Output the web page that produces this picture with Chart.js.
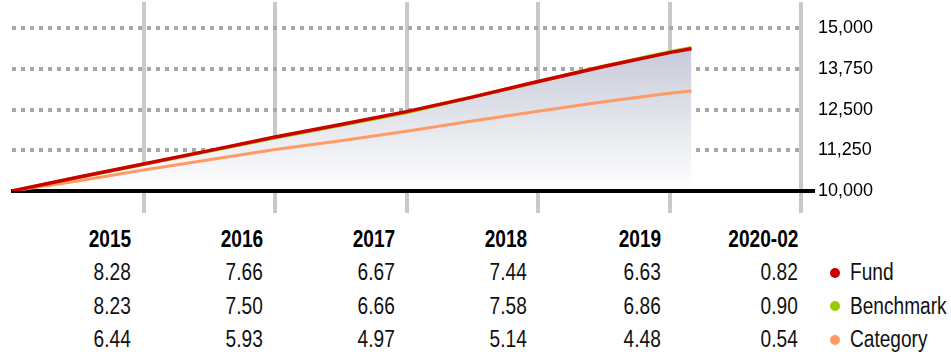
<!DOCTYPE html>
<html><head><meta charset="utf-8">
<script src="https://cdn.jsdelivr.net/npm/chart.js@4/dist/chart.umd.min.js"></script>
<style>
html,body{margin:0;padding:0;background:#fff;width:951px;height:363px;overflow:hidden;}
#wrap{position:absolute;left:0;top:0;width:951px;height:213px;}
.cell{position:absolute;font-family:"Liberation Sans",Arial,sans-serif;font-size:23px;line-height:23px;color:#111;white-space:nowrap;}
.r{transform:scaleX(0.83);transform-origin:right center;text-align:right;}
.l{transform:scaleX(0.83);transform-origin:left center;}
.b{font-weight:bold;color:#000;}
.dot{position:absolute;width:10px;height:10px;border-radius:50%;}
</style>
</head><body>
<div id="wrap"><canvas id="c" width="951" height="213"></canvas></div>
<div id="table"></div>
<script>
// ---- data ----
const months    = [0, 6, 12, 18, 24, 30, 36, 42, 48, 54, 60, 62];
const fund      = [10000, 10420, 10828, 11240, 11657, 12040, 12435, 12880, 13360, 13820, 14246, 14363];
const benchmark = [10000, 10415, 10823, 11230, 11635, 12020, 12410, 12880, 13351, 13830, 14267, 14394];
const category  = [10000, 10310, 10644, 10960, 11275, 11540, 11836, 12150, 12444, 12740, 13002, 13072];
const yTicks = [10000, 11250, 12500, 13750, 15000];
const baseValue = 10000;

const years = ['2015', '2016', '2017', '2018', '2019', '2020-02'];
const fundReturns      = [8.28, 7.66, 6.67, 7.44, 6.63, 0.82];
const benchmarkReturns = [8.23, 7.50, 6.66, 7.58, 6.86, 0.90];
const categoryReturns  = [6.44, 5.93, 4.97, 5.14, 4.48, 0.54];
const seriesNames  = ['Fund', 'Benchmark', 'Category'];
const seriesColors = ['#cc0000', '#99cc00', '#ff9966'];

// ---- chart ----
const pts = arr => months.map((m, i) => ({x: m, y: arr[i]}));
const gradFill = (c) => {
  const chart = c.chart;
  if (!chart.chartArea) return 'rgba(200,205,218,0.5)';
  const y = chart.scales.y;
  const g = chart.ctx.createLinearGradient(0, y.getPixelForValue(14400), 0, y.getPixelForValue(baseValue));
  g.addColorStop(0, '#c6cad8');
  g.addColorStop(1, '#ffffff');
  return g;
};
const clear = 'rgba(0,0,0,0)';
const baseline = {
  id: 'baseline',
  beforeDatasetsDraw(chart) {
    const {ctx, chartArea, scales} = chart;
    const py = scales.y.getPixelForValue(baseValue);
    ctx.save();
    ctx.strokeStyle = '#000';
    ctx.lineWidth = 4;
    ctx.beginPath();
    ctx.moveTo(chartArea.left - 1, py);
    ctx.lineTo(chartArea.right + 14, py);
    ctx.stroke();
    ctx.restore();
  }
};
new Chart(document.getElementById('c'), {
  type: 'line',
  data: {datasets: [
    {label: seriesNames[0], data: pts(fund), borderColor: seriesColors[0], borderWidth: 3.5, pointRadius: 0, fill: {value: baseValue}, backgroundColor: gradFill},
    {label: seriesNames[1], data: pts(benchmark), borderColor: seriesColors[1], borderWidth: 3.5, pointRadius: 0, fill: false},
    {label: seriesNames[2], data: pts(category), borderColor: seriesColors[2], borderWidth: 3, pointRadius: 0, fill: false}
  ]},
  plugins: [baseline],
  options: {
    responsive: false, animation: false,
    layout: {padding: {left: 12, top: 2, right: 0, bottom: 0}},
    plugins: {legend: {display: false}, tooltip: {enabled: false}, filler: {drawTime: 'beforeDatasetsDraw'}},
    scales: {
      x: {
        type: 'linear', min: 0, max: 72,
        ticks: {stepSize: 12, display: false},
        grid: {
          color: c => (c.tick && c.tick.value === 0) ? clear : '#c9c9c9',
          lineWidth: 4, drawTicks: true, tickLength: 22, tickWidth: 4,
          tickColor: c => (c.tick && c.tick.value === 0) ? clear : '#c9c9c9'
        },
        border: {display: false}
      },
      y: {
        position: 'right', min: 10000, max: 15800,
        afterBuildTicks: s => { s.ticks = yTicks.map(v => ({value: v})); },
        afterFit: s => { s.width = 150; s.paddingTop = 0; s.paddingBottom = 0; },
        ticks: {callback: v => v.toLocaleString('en-US'), font: {family: 'Liberation Sans', size: 18}, color: '#000', padding: 3},
        grid: {
          color: c => (c.tick && c.tick.value === baseValue) ? clear : '#a8a8a8',
          lineWidth: 4, drawTicks: true, tickLength: 14, tickWidth: 4,
          tickColor: clear
        },
        border: {display: false, dash: [4, 5]}
      }
    }
  }
});

// ---- table ----
const colRight = [131, 263, 395, 527, 661, 798];
const rowTop = [227.5, 261, 294.5, 328];
const rows = [fundReturns, benchmarkReturns, categoryReturns];
const t = document.getElementById('table');
function cell(txt, cls, top, right, left) {
  const d = document.createElement('div');
  d.className = 'cell ' + cls;
  d.textContent = txt;
  d.style.top = top + 'px';
  if (right !== null) d.style.right = (951 - right) + 'px';
  else d.style.left = left + 'px';
  t.appendChild(d);
}
years.forEach((y, i) => cell(y, 'r b', rowTop[0], colRight[i], null));
rows.forEach((r, ri) => {
  r.forEach((v, i) => cell(v.toFixed(2), 'r', rowTop[ri + 1], colRight[i], null));
  const dot = document.createElement('div');
  dot.className = 'dot';
  dot.style.background = seriesColors[ri];
  dot.style.left = '830px';
  dot.style.top = (rowTop[ri + 1] + 6.5) + 'px';
  t.appendChild(dot);
  cell(seriesNames[ri], 'l', rowTop[ri + 1], null, 850);
});
</script>
</body></html>
